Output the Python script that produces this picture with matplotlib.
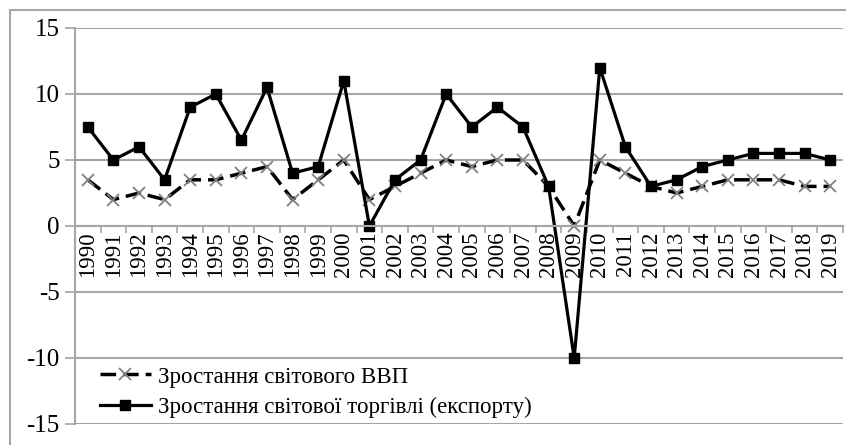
import matplotlib.pyplot as plt
from matplotlib.lines import Line2D
from matplotlib.ticker import FixedLocator

plt.rcParams['font.family'] = ['Liberation Serif', 'DejaVu Serif']

years = [str(y) for y in range(1990, 2020)]
# Зростання світового ВВП
gdp = [3.5, 2, 2.5, 2, 3.5, 3.5, 4, 4.5, 2, 3.5, 5, 2, 3, 4, 5,
       4.5, 5, 5, 3, 0, 5, 4, 3, 2.5, 3, 3.5, 3.5, 3.5, 3, 3]
# Зростання світової торгівлі (експорту)
trade = [7.5, 5, 6, 3.5, 9, 10, 6.5, 10.5, 4, 4.5, 11, 0, 3.5, 5, 10,
         7.5, 9, 7.5, 3, -10, 12, 6, 3, 3.5, 4.5, 5, 5.5, 5.5, 5.5, 5]
yticks = [-15, -10, -5, 0, 5, 10, 15]

fig = plt.figure(figsize=(8.46, 4.45), dpi=100)
ax = fig.add_axes([75 / 846, 21 / 445, (843 - 75) / 846, (424 - 28) / 445])

x = list(range(len(years)))
grey = '#a6a6a6'

ax.plot(x, gdp, color='black', linestyle=(0, (4.5, 2)), linewidth=2.5,
        marker='x', markersize=9, markeredgecolor='#808080',
        markeredgewidth=1.3, label='Зростання світового ВВП')
ax.plot(x, trade, color='black', linewidth=2.3, marker='s', markersize=7,
        label='Зростання світової торгівлі (експорту)')

ax.set_xlim(-0.5, len(years) - 0.5)
ax.set_ylim(-15, 15)
ax.set_yticks(yticks)
ax.set_yticklabels([str(v) for v in yticks])
ax.yaxis.grid(True, color=grey, linewidth=1.5)
ax.set_axisbelow(True)
ax.tick_params(axis='y', length=7, color=grey, width=1.2, labelsize=18, pad=4)

# category axis crosses at zero
ax.spines['bottom'].set_position(('data', 0))
ax.spines['bottom'].set_color(grey)
ax.spines['bottom'].set_linewidth(1.5)
ax.spines['left'].set_color(grey)
ax.spines['left'].set_linewidth(1.5)
ax.spines['top'].set_visible(False)
ax.spines['right'].set_visible(False)
ax.set_xticks(x)
ax.set_xticklabels(years, rotation=90)
ax.tick_params(axis='x', which='major', length=0, labelsize=16.5, pad=4)
ax.xaxis.set_minor_locator(FixedLocator([i + 0.5 for i in range(len(years))]))
ax.tick_params(axis='x', which='minor', length=5, color=grey, width=1.2)

leg = ax.legend(loc='lower left', bbox_to_anchor=(0.012, -0.025), frameon=False,
                fontsize=16.5, handlelength=2.2, handletextpad=0.3,
                labelspacing=0.4, borderaxespad=0.5, borderpad=0.2)

# outer chart border
fig.add_artist(Line2D([10 / 846, 10 / 846], [0, 1 - 10 / 445],
                      transform=fig.transFigure, color=grey, linewidth=1.5))
fig.add_artist(Line2D([10 / 846, 1], [1 - 10 / 445, 1 - 10 / 445],
                      transform=fig.transFigure, color=grey, linewidth=1.5))

fig.savefig('out.png', dpi=100)
